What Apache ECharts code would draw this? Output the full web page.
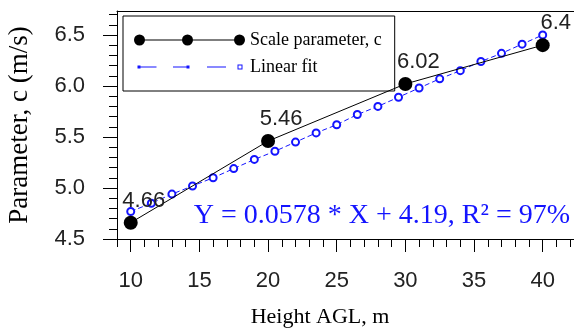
<!DOCTYPE html>
<html><head><meta charset="utf-8">
<script src="https://cdn.jsdelivr.net/npm/echarts@6/dist/echarts.min.js"></script>
<style>html,body{margin:0;padding:0;background:#fff}#c{width:574px;height:329px}</style>
</head><body><div id="c"></div>
<script>
// ---- data ----
const heights = [10, 20, 30, 40];
const scaleParam = [4.66, 5.46, 6.02, 6.4];
const fitX = [10, 11.5, 13, 14.5, 16, 17.5, 19, 20.5, 22, 23.5, 25, 26.5, 28, 29.5, 31, 32.5, 34, 35.5, 37, 38.5, 40];
const fitY = [4.77, 4.85, 4.94, 5.02, 5.10, 5.19, 5.28, 5.36, 5.45, 5.54, 5.62, 5.72, 5.80, 5.89, 5.98, 6.07, 6.15, 6.24, 6.32, 6.41, 6.50];
const seriesNames = ['Scale parameter, c', 'Linear fit'];
const xTickLabels = [10, 15, 20, 25, 30, 35, 40];
const yTickLabels = [4.5, 5.0, 5.5, 6.0, 6.5];
const equationText = 'Y = 0.0578 * X + 4.19, R\u00B2 = 97%';
const xTitle = 'Height AGL, m';
const yTitle = 'Parameter, c (m/s)';

// ---- layout ----
const W = 574, H = 329;
const L = 117, T = 11, R = 0, B = 90;
const X0 = 9, X1 = 42.28, Y0 = 4.5, Y1 = 6.735;
const gw = W - L - R, gh = H - T - B;
const px = x => L + (x - X0) / (X1 - X0) * gw;
const py = y => T + (Y1 - y) / (Y1 - Y0) * gh;
const xMaj0 = xTickLabels[0], xMaj1 = xTickLabels[xTickLabels.length - 1];
const yMaj0 = yTickLabels[0], yMaj1 = yTickLabels[yTickLabels.length - 1];

const BLUE = '#1414ff';
const labelFont = 'Liberation Sans';
const serif = 'Liberation Serif';

const icon1 = 'path://M0 0M111 11' +
  'M0 5.5a5.5 5.5 0 1 1 11 0a5.5 5.5 0 1 1 -11 0Z' +
  'M48 5.5a5.5 5.5 0 1 1 11 0a5.5 5.5 0 1 1 -11 0Z' +
  'M100 5.5a5.5 5.5 0 1 1 11 0a5.5 5.5 0 1 1 -11 0Z' +
  'M5.5 5h100v1h-100Z';
const icon2 = 'path://M0 0M111 11' +
  'M3.5 4h3v3h-3Z' +
  'M6.5 5h16v1h-16Z' +
  'M39 5h14v1h-14Z' +
  'M52.5 4h3v3h-3Z' +
  'M73 5h19v1h-19Z' +
  'M103.5 3h5v5h-5Z M104.5 4v3h3v-3Z';

const gridBase = {outerBoundsMode: 'none', containLabel: false};
const chart = echarts.init(document.getElementById('c'), null, {renderer: 'canvas'});
chart.setOption({
  animation: false,
  backgroundColor: '#fff',
  grid: [
    Object.assign({left: L, right: R, top: T, bottom: B}, gridBase),
    Object.assign({left: px(xMaj0), right: W - px(xMaj1), top: py(yMaj1), bottom: B}, gridBase),
    Object.assign({left: L, right: R, top: py(6.7), bottom: B}, gridBase)
  ],
  xAxis: [
    {gridIndex: 0, type: 'value', min: X0, max: X1, interval: 1,
     axisLine: {show: true, lineStyle: {color: '#000', width: 1}},
     axisTick: {show: true, length: 8, lineStyle: {color: '#000'}},
     axisLabel: {show: false}, splitLine: {show: false},
     name: xTitle, nameLocation: 'middle', nameGap: 67, nameMoveOverlap: false,
     nameTextStyle: {fontFamily: serif, fontSize: 22, color: '#000', padding: [0, 51, 0, 0]}},
    {gridIndex: 0, type: 'value', position: 'top', min: X0, max: X1,
     axisLine: {show: true, lineStyle: {color: '#000', width: 1}},
     axisTick: {show: false}, axisLabel: {show: false}, splitLine: {show: false}},
    {gridIndex: 1, type: 'value', min: xMaj0, max: xMaj1, interval: 5,
     axisLine: {show: false},
     axisTick: {show: true, length: 13, lineStyle: {color: '#000'}},
     axisLabel: {show: true, margin: 31,
                 fontFamily: labelFont, fontSize: 22, color: '#222'},
     splitLine: {show: false}},
    {gridIndex: 2, type: 'value', min: X0, max: X1, show: false}
  ],
  yAxis: [
    {gridIndex: 0, type: 'value', min: Y0, max: Y1,
     axisLine: {show: true, lineStyle: {color: '#000', width: 1}},
     axisTick: {show: false}, axisLabel: {show: false}, splitLine: {show: false},
     name: yTitle, nameLocation: 'middle', nameGap: 84, nameRotate: 90, nameMoveOverlap: false,
     nameTextStyle: {fontFamily: serif, fontSize: 27, color: '#000'}},
    {gridIndex: 1, type: 'value', min: yMaj0, max: yMaj1, interval: 0.5,
     offset: px(xMaj0) - L,
     axisLine: {show: false},
     axisTick: {show: true, length: 14, lineStyle: {color: '#000'}},
     axisLabel: {show: true, margin: 32,
                 fontFamily: labelFont, fontSize: 22, color: '#222',
                 formatter: v => v.toFixed(1)},
     splitLine: {show: false}},
    {gridIndex: 2, type: 'value', min: Y0, max: 6.7, interval: 0.1,
     axisLine: {show: false},
     axisTick: {show: true, length: 8, lineStyle: {color: '#000'}},
     axisLabel: {show: false}, splitLine: {show: false}}
  ],
  legend: {
    orient: 'vertical', left: 123, top: 16,
    padding: [15, 13, 15, 11], itemGap: 9, itemWidth: 111, itemHeight: 11,
    backgroundColor: '#fff', borderColor: '#000', borderWidth: 1, borderRadius: 0,
    textStyle: {fontFamily: serif, fontSize: 18, color: '#000'},
    data: [
      {name: seriesNames[0], icon: icon1, itemStyle: {color: '#000', borderWidth: 0}},
      {name: seriesNames[1], icon: icon2, itemStyle: {color: BLUE, borderWidth: 0}}
    ]
  },
  graphic: [{
    type: 'text', right: 4, top: 202,
    style: {text: equationText, font: '28px "Liberation Serif"', fill: BLUE}
  }],
  series: [
    {
      name: seriesNames[1], type: 'line', xAxisIndex: 0, yAxisIndex: 0,
      data: fitX.map((x, i) => [x, fitY[i]]),
      symbol: 'emptyCircle', symbolSize: 7,
      itemStyle: {color: BLUE, borderWidth: 1.8},
      lineStyle: {color: BLUE, width: 1, type: [5, 3]},
      z: 3
    },
    {
      name: seriesNames[0], type: 'line', xAxisIndex: 0, yAxisIndex: 0,
      data: heights.map((h, i) => [h, scaleParam[i]]),
      symbol: 'circle', symbolSize: 14,
      itemStyle: {color: '#000'},
      lineStyle: {color: '#000', width: 1},
      label: {show: true, position: 'top', distance: 4, offset: [13, 0],
              fontFamily: labelFont, fontSize: 22, color: '#222',
              formatter: p => String(p.value[1])},
      z: 4
    }
  ]
});
</script>
</body></html>
